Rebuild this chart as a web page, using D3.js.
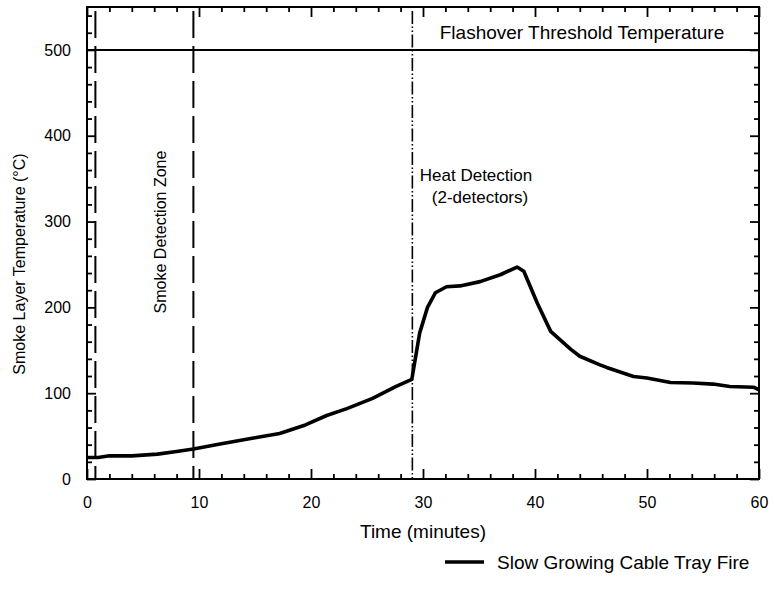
<!DOCTYPE html>
<html><head><meta charset="utf-8">
<script src="https://cdn.jsdelivr.net/npm/d3@7"></script>
<style>body{margin:0;background:#fff}svg{display:block}text{font-family:"Liberation Sans",Arial,sans-serif;fill:#000}</style>
</head><body>
<svg id="c" width="774" height="599"></svg>
<script>
const timeMin = [0, 1, 2, 4, 6.3, 8, 9.5, 12, 15, 17.2, 19.5, 21.4, 23.2, 25.5, 27.6, 29.0, 29.7, 30.4, 31.1, 32.1, 33.3, 35.1, 36.9, 38.4, 39.0, 40.2, 41.4, 43.2, 44.0, 45.8, 46.4, 48.8, 50.0, 52.1, 54.1, 55.9, 57.4, 59.5, 60];
const smokeTemp = [25, 25, 27, 27, 29, 32, 35, 41, 48, 53, 63, 74, 82, 94, 108, 116, 170, 200, 217, 224, 225, 230, 238, 247, 242, 205, 172, 151, 143, 133, 130, 119.5, 117.6, 112.5, 111.8, 110.6, 107.8, 107, 104];
const xTicks = [0, 10, 20, 30, 40, 50, 60];
const yTicks = [0, 100, 200, 300, 400, 500];
const xMinorTicks = [2, 4, 6, 8, 12, 14, 16, 18, 22, 24, 26, 28, 32, 34, 36, 38, 42, 44, 46, 48, 52, 54, 56, 58];
const yMinorTicks = [20, 40, 60, 80, 120, 140, 160, 180, 220, 240, 260, 280, 320, 340, 360, 380, 420, 440, 460, 480, 520, 540];
const flashoverTemp = 500;
const smokeZone = [0.75, 9.5];
const heatDetectTime = 29.05;
const seriesName = "Slow Growing Cable Tray Fire";

const svg = d3.select("#c");
const L = 87, R = 759, T = 7, B = 479;
const x = d3.scaleLinear().domain([0, 60]).range([L, R]);
const y = d3.scaleLinear().domain([0, 550]).range([B, T]);

function styleAxis(sel) {
  sel.select(".domain").remove();
  sel.selectAll(".tick line").attr("stroke", "#000").attr("stroke-width", 1.8);
  sel.selectAll(".tick text").attr("font-size", 16).attr("font-family", "Liberation Sans, Arial, sans-serif").attr("fill", "#000");
}
svg.append("g").attr("transform", `translate(0,${B})`)
  .call(d3.axisBottom(x).tickValues(xTicks).tickSize(-10).tickPadding(18).tickFormat(d3.format("d")))
  .call(styleAxis);
svg.append("g").attr("transform", `translate(0,${B})`)
  .call(d3.axisBottom(x).tickValues(xMinorTicks).tickSize(-5).tickFormat(""))
  .call(styleAxis);
svg.append("g").attr("transform", `translate(0,${T})`)
  .call(d3.axisTop(x).tickValues(xTicks).tickSize(-10).tickFormat(""))
  .call(styleAxis);
svg.append("g").attr("transform", `translate(0,${T})`)
  .call(d3.axisTop(x).tickValues(xMinorTicks).tickSize(-5).tickFormat(""))
  .call(styleAxis);
svg.append("g").attr("transform", `translate(${L},0)`)
  .call(d3.axisLeft(y).tickValues(yTicks).tickSize(-9).tickPadding(16).tickFormat(d3.format("d")))
  .call(styleAxis);
svg.append("g").attr("transform", `translate(${L},0)`)
  .call(d3.axisLeft(y).tickValues(yMinorTicks).tickSize(-5).tickFormat(""))
  .call(styleAxis);
svg.append("g").attr("transform", `translate(${R},0)`)
  .call(d3.axisRight(y).tickValues(yTicks).tickSize(-9).tickFormat(""))
  .call(styleAxis);
svg.append("g").attr("transform", `translate(${R},0)`)
  .call(d3.axisRight(y).tickValues(yMinorTicks).tickSize(-5).tickFormat(""))
  .call(styleAxis);

// frame
svg.append("rect").attr("x", L).attr("y", T).attr("width", R - L).attr("height", B - T)
  .attr("fill", "none").attr("stroke", "#000").attr("stroke-width", 2);

// axis titles
svg.append("text").attr("x", 423).attr("y", 538).attr("text-anchor", "middle")
  .attr("font-size", 19).text("Time (minutes)");
svg.append("text").attr("transform", `translate(25,${264}) rotate(-90)`)
  .attr("text-anchor", "middle").attr("font-size", 16).text("Smoke Layer Temperature (°C)");

// flashover line
svg.append("line").attr("x1", L).attr("x2", R).attr("y1", y(flashoverTemp)).attr("y2", y(flashoverTemp))
  .attr("stroke", "#000").attr("stroke-width", 2);
svg.append("text").attr("x", 582).attr("y", 39).attr("text-anchor", "middle")
  .attr("font-size", 19).text("Flashover Threshold Temperature");

// smoke detection zone lines
smokeZone.forEach(t => {
  svg.append("line").attr("x1", x(t)).attr("x2", x(t)).attr("y1", T + 4).attr("y2", B)
    .attr("stroke", "#000").attr("stroke-width", 2).attr("stroke-dasharray", "27,8");
});
svg.append("text").attr("transform", `translate(166,${232}) rotate(-90)`)
  .attr("text-anchor", "middle").attr("font-size", 16).text("Smoke Detection Zone");

// heat detection line
svg.append("line").attr("x1", x(heatDetectTime)).attr("x2", x(heatDetectTime)).attr("y1", T + 4).attr("y2", B)
  .attr("stroke", "#000").attr("stroke-width", 1.6).attr("stroke-dasharray", "13,2.5,1.5,2.5,1.5,2.5");
svg.append("text").attr("x", 476).attr("y", 181).attr("text-anchor", "middle")
  .attr("font-size", 17).text("Heat Detection");
svg.append("text").attr("x", 480).attr("y", 203).attr("text-anchor", "middle")
  .attr("font-size", 17).text("(2-detectors)");

// series
const line = d3.line().x((d, i) => x(timeMin[i])).y((d, i) => y(smokeTemp[i]));
svg.append("path").attr("d", line(smokeTemp)).attr("fill", "none")
  .attr("stroke", "#000").attr("stroke-width", 3.6).attr("stroke-linejoin", "round");

// legend
svg.append("line").attr("x1", 445).attr("x2", 484).attr("y1", 562).attr("y2", 562)
  .attr("stroke", "#000").attr("stroke-width", 3.6);
svg.append("text").attr("x", 497).attr("y", 569).attr("font-size", 19).text(seriesName);
</script>
</body></html>
